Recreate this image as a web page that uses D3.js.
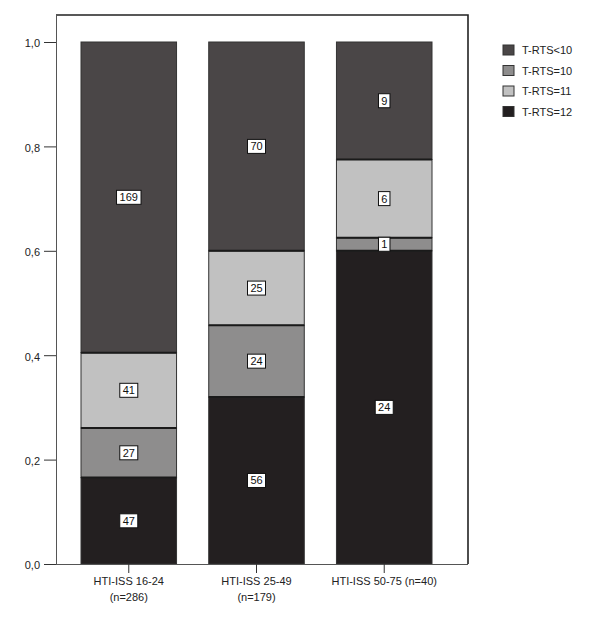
<!DOCTYPE html>
<html><head><meta charset="utf-8">
<script src="https://cdn.jsdelivr.net/npm/d3@7"></script>
<style>body{margin:0;background:#fff;} svg{display:block;font-family:Arial,"Liberation Sans",sans-serif;}</style>
</head><body>
<svg id="c" width="607" height="624"></svg>
<script>
const categories = ["HTI-ISS 16-24|(n=286)", "HTI-ISS 25-49|(n=179)", "HTI-ISS 50-75 (n=40)"];
const seriesNames = ["T-RTS=12", "T-RTS=10", "T-RTS=11", "T-RTS<10"];
const rts12 = [47, 56, 24];
const rts10 = [27, 24, 1];
const rts11 = [41, 25, 6];
const rtsLt10 = [169, 70, 9];
const yTicks = [0, 0.2, 0.4, 0.6, 0.8, 1.0];
const legendOrder = ["T-RTS<10", "T-RTS=10", "T-RTS=11", "T-RTS=12"];
const colors = {"T-RTS=12":"#231f20","T-RTS=10":"#8e8d8d","T-RTS=11":"#c1c1c1","T-RTS<10":"#4a4647"};

const series = [rts12, rts10, rts11, rtsLt10];
const svg = d3.select("#c");
const L = 56, R = 468, T = 15, B = 564, yTop = 42;

const xb = d3.scaleBand().domain(categories).range([81, 432]).paddingInner((209-177)/127).paddingOuter(0);
const y = d3.scaleLinear().domain([0, 1]).range([B, yTop]);

// frame top/right
svg.append("path").attr("d", `M${L},${T}H${R}V${B}`).attr("fill","none").attr("stroke","#222").attr("stroke-width",1.6);

// stacks
const rows = categories.map((c, i) => {
  const o = {cat: c};
  const tot = series.reduce((s, a) => s + a[i], 0);
  seriesNames.forEach((n, k) => o[n] = series[k][i] / tot);
  return o;
});
const stack = d3.stack().keys(seriesNames)(rows);
const g = svg.append("g");
stack.forEach((layer, k) => {
  layer.forEach((d, i) => {
    g.append("rect")
      .attr("x", xb(categories[i])).attr("width", xb.bandwidth())
      .attr("y", y(d[1])).attr("height", y(d[0]) - y(d[1]))
      .attr("fill", colors[seriesNames[k]]).attr("stroke", "#333").attr("stroke-width", 1);
  });
});
stack.forEach((layer, k) => {
  if (k === 0) return;
  layer.forEach((d, i) => {
    g.append("line").attr("x1", xb(categories[i])).attr("x2", xb(categories[i]) + xb.bandwidth())
      .attr("y1", y(d[0])).attr("y2", y(d[0])).attr("stroke", "#1a1a1a").attr("stroke-width", 2);
  });
});
stack.forEach((layer, k) => {
  layer.forEach((d, i) => {
    const cx = xb(categories[i]) + xb.bandwidth() / 2;
    const cy = (y(d[0]) + y(d[1])) / 2;
    const txt = String(series[k][i]);
    const w = txt.length * 6.5 + 5;
    g.append("rect").attr("x", cx - w/2).attr("y", cy - 7).attr("width", w).attr("height", 14)
      .attr("fill", "#fff").attr("stroke", "#111").attr("stroke-width", 1);
    g.append("text").attr("x", cx).attr("y", cy + 4).attr("text-anchor", "middle")
      .attr("font-size", 11).attr("fill", "#111").text(txt);
  });
});

const yAxis = d3.axisLeft(y).tickValues(yTicks).tickSize(12).tickPadding(4)
  .tickFormat(d => d3.format(".1f")(d).replace(".", ","));
const ya = svg.append("g").attr("transform", `translate(${L},0)`).call(yAxis);
ya.select(".domain").attr("stroke", "#555").attr("d", `M0.5,${T}V${B}`);
ya.selectAll(".tick line").attr("stroke", "#333");
ya.selectAll(".tick text").attr("font-size", 11).attr("fill", "#222").attr("dy", "0.45em").attr("font-family", "Arial, Liberation Sans, sans-serif");

const xAxis = d3.axisBottom(xb).tickSize(9).tickFormat("");
const xa = svg.append("g").attr("transform", `translate(0,${B})`).call(xAxis);
xa.select(".domain").attr("stroke", "#555").attr("d", `M${L},0.5H${R}`);
xa.selectAll(".tick line").attr("stroke", "#333");
categories.forEach(c => {
  const parts = c.split("|");
  const t = svg.append("text").attr("x", xb(c) + xb.bandwidth()/2).attr("y", 585)
    .attr("text-anchor", "middle").attr("font-size", 11).attr("fill", "#222");
  parts.forEach((p, j) => t.append("tspan").attr("x", xb(c) + xb.bandwidth()/2).attr("dy", j ? 16 : 0).text(p));
});

const lg = svg.append("g");
legendOrder.forEach((n, i) => {
  const yy = 50 + i * 20.5;
  lg.append("rect").attr("x", 503).attr("y", yy - 5).attr("width", 11).attr("height", 10)
    .attr("fill", colors[n]).attr("stroke", "#333").attr("stroke-width", 1);
  lg.append("text").attr("x", 522).attr("y", yy + 4).attr("font-size", 11).attr("fill", "#222").text(n);
});
</script>
</body></html>
